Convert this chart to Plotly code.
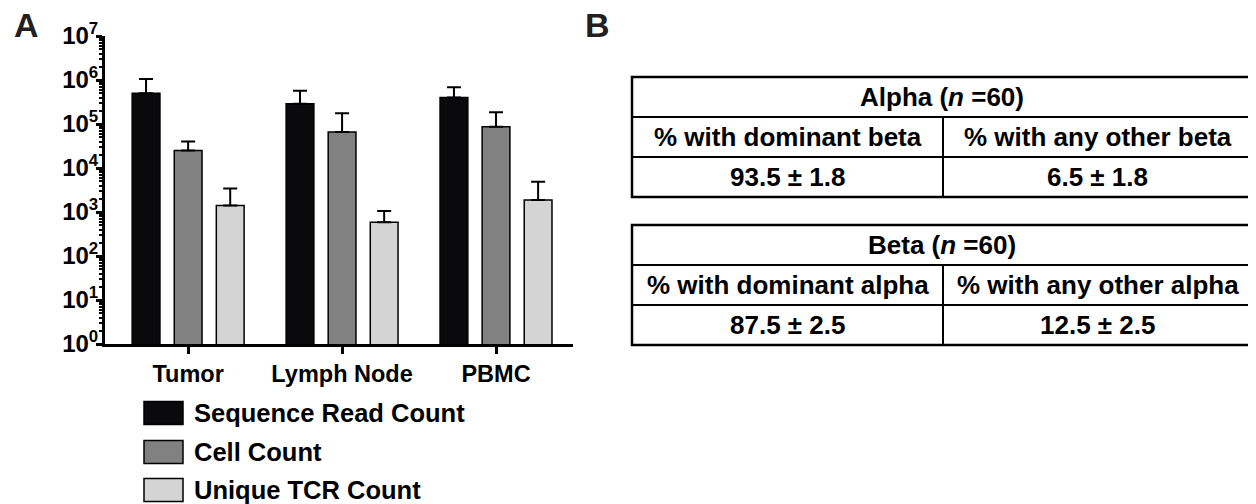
import plotly.graph_objects as go

W, H = 1256, 504
OFF = 8  # page body margin of the html output

# ---------------- data ----------------
categories = ["Tumor", "Lymph Node", "PBMC"]
series_names = ["Sequence Read Count", "Cell Count", "Unique TCR Count"]
series_colors = ["#0a0a0c", "#808180", "#d4d4d4"]
seq_read = [5.0e5, 2.9e5, 4.0e5]
seq_read_err = [5.5e5, 2.8e5, 2.8e5]
cell_count = [2.5e4, 6.6e4, 8.7e4]
cell_count_err = [1.5e4, 1.09e5, 9.8e4]
unique_tcr = [1.4e3, 585, 1.87e3]
unique_tcr_err = [2.0e3, 465, 3.0e3]
y_tickvals = [1, 10, 100, 1e3, 1e4, 1e5, 1e6, 1e7]
y_ticktext = ["<b>10<sup>%d</sup></b>" % i for i in range(8)]

table1_title = "Alpha (<i>n</i> =60)"
table1_headers = ["% with dominant beta", "% with any other beta"]
table1_values = ["93.5 ± 1.8", "6.5 ± 1.8"]
table2_title = "Beta (<i>n</i> =60)"
table2_headers = ["% with dominant alpha", "% with any other alpha"]
table2_values = ["87.5 ± 2.5", "12.5 ± 2.5"]

values = [seq_read, cell_count, unique_tcr]
errors = [seq_read_err, cell_count_err, unique_tcr_err]

FONT = "Liberation Sans"


def px(x):
    return (x - OFF) / W


def py(y):
    return 1 - (y - OFF) / H


fig = go.Figure()
for name, color, vals, errs in zip(series_names, series_colors, values, errors):
    fig.add_trace(go.Bar(
        x=categories, y=vals, name=name,
        marker=dict(color=color, line=dict(color="#000000", width=1.5)),
        error_y=dict(type="data", array=errs, arrayminus=[0] * len(errs),
                     symmetric=False, color="#000000", thickness=2, width=7),
        showlegend=False,
    ))

fig.update_layout(
    width=W, height=H,
    margin=dict(l=0, r=0, t=0, b=0, autoexpand=False),
    paper_bgcolor="white", plot_bgcolor="white",
    barmode="group", bargap=0.18, bargroupgap=0.34,
    showlegend=False,
    font=dict(family=FONT, color="#000000"),
    xaxis=dict(
        domain=[px(105), px(573)], range=[-0.54, 2.5], automargin=False,
        showline=True, linecolor="#000000", linewidth=3,
        ticks="outside", ticklen=7, tickwidth=2.5, tickcolor="#000000",
        tickvals=categories, ticktext=["<b>%s</b>" % c for c in categories],
        tickfont=dict(size=23.5, family=FONT), showgrid=False, zeroline=False,
    ),
    yaxis=dict(
        domain=[py(344), py(36)], type="log", range=[0, 7], automargin=False,
        showline=True, linecolor="#000000", linewidth=3,
        ticks="outside", ticklen=6, tickwidth=2.5, tickcolor="#000000",
        tickmode="array", tickvals=y_tickvals, ticktext=y_ticktext,
        ticklabelstandoff=-7,
        tickfont=dict(size=24, family=FONT), showgrid=False, zeroline=False,
        minor=dict(ticks="outside", ticklen=3, tickwidth=1.5, tickcolor="#000000",
                   dtick="D1", showgrid=False),
    ),
)

shapes = []
annotations = []


def label(x, y, text, size, color="#000000", xanchor="center"):
    annotations.append(dict(x=px(x), y=py(y), xref="paper", yref="paper",
                            text=text, showarrow=False,
                            xanchor=xanchor, yanchor="middle",
                            font=dict(size=size, family=FONT, color=color)))


# panel labels
label(26, 25, "<b>A</b>", 34, "#231f20")
label(597, 25, "<b>B</b>", 34, "#231f20")

# legend (manual)
legend_rows = [413, 452, 490]
for name, color, yc in zip(series_names, series_colors, legend_rows):
    shapes.append(dict(type="rect", xref="paper", yref="paper",
                       x0=px(144), x1=px(183), y0=py(yc - 11.5), y1=py(yc + 11.5),
                       fillcolor=color, line=dict(color="#000000", width=1.5)))
    label(192, yc, "<b>%s</b>" % name, 25.5, xanchor="left")


# tables (manual)
def add_table(top, title, headers, vals):
    left, right, mid = 632, 1252, 943
    rh = 40
    bottom = top + 3 * rh
    shapes.append(dict(type="rect", xref="paper", yref="paper",
                       x0=px(left), x1=px(right), y0=py(top), y1=py(bottom),
                       line=dict(color="#000000", width=2.5)))
    for k in (1, 2):
        shapes.append(dict(type="line", xref="paper", yref="paper",
                           x0=px(left), x1=px(right), y0=py(top + k * rh), y1=py(top + k * rh),
                           line=dict(color="#000000", width=2)))
    shapes.append(dict(type="line", xref="paper", yref="paper",
                       x0=px(mid), x1=px(mid), y0=py(top + rh), y1=py(bottom),
                       line=dict(color="#000000", width=2)))
    label((left + right) / 2, top + rh / 2, "<b>%s</b>" % title, 26)
    for j, (h, v) in enumerate(zip(headers, vals)):
        cx = (left + mid) / 2 if j == 0 else (mid + right) / 2
        label(cx, top + 1.5 * rh, "<b>%s</b>" % h, 26)
        label(cx, top + 2.5 * rh, "<b>%s</b>" % v, 26)


add_table(77, table1_title, table1_headers, table1_values)
add_table(225, table2_title, table2_headers, table2_values)

fig.update_layout(shapes=shapes, annotations=annotations)
fig.write_html("out.html")
